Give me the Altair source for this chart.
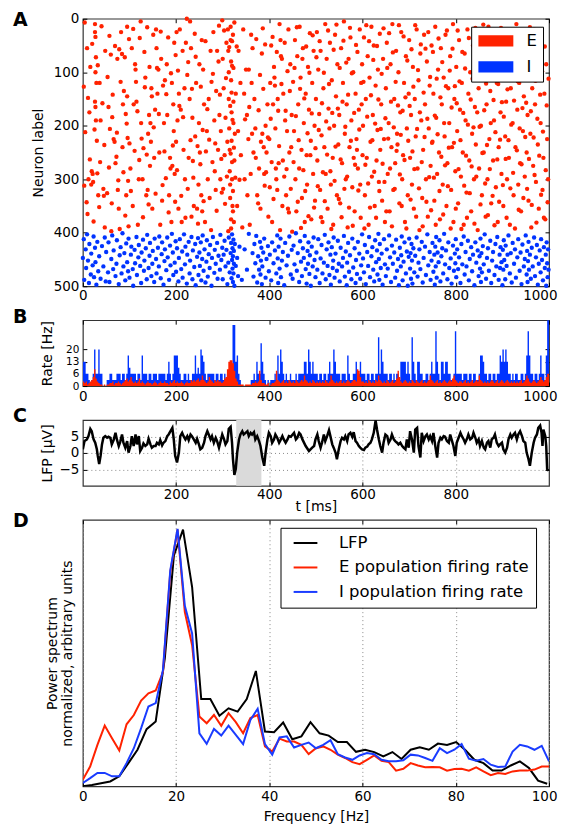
import altair as alt
import pandas as pd

FONT = "DejaVu Sans"
RED = "#ff2200"
BLUE = "#0033ff"
W = 467

# ---------------- Panel A: raster (t [ms], neuron label) ----------------
E_spikes = [
 (2,127),(3,312),(4,7),(9,55),(10,365),(12,300),(14,175),(16,90),(18,310),(19,285),(21,290),(22,305),(26,10),(26,25),(27,34),(27,100),(28,72),(29,120),(26,155),(27,165),(28,190),(30,228),(31,289),(33,330),(35,352),(36,120),(38,190),(44,318),(46,236),(48,60),(47,390),
 (52,326),(55,165),(57,32),(58,206),(60,67),(62,345),(63,184),(66,225),(68,230),(70,270),(72,258),(74,75),(75,320),(76,302),(78,57),(79,393),(82,25),(84,66),(85,240),(86,160),(88,135),(90,72),(91,368),(92,178),(93,330),(95,15),(95,145),(96,223),(97,303),(98,388),
 (100,233),(102,280),(105,55),(107,350),(109,160),(112,85),(113,95),(114,118),(115,155),(118,385),(120,300),(122,36),(125,195),(126,224),(128,300),(130,242),(132,62),(134,110),(136,330),(138,16),(140,215),(142,180),(144,275),(145,195),(146,230),(147,130),(148,145),(149,355),(143,90),(139,320),
 (151,30),(153,260),(155,170),(157,20),(158,55),(160,140),(162,95),(164,250),(166,385),(168,75),(170,340),(172,125),(174,195),(176,115),(178,298),(180,85),(181,180),(183,35),(185,330),(187,260),(188,280),(190,380),(191,120),(192,275),(194,160),(195,210),(196,45),(197,290),(198,342),(199,68),
 (200,230),(201,25),(203,190),(205,355),(206,140),(208,20),(210,170),(212,380),(214,60),(216,245),(218,130),(219,300),(221,45),(223,0),(224,105),(225,318),(227,260),(229,150),(230,5),(232,55),(233,370),(235,185),(236,266),(238,350),(240,28),(241,220),(243,120),(245,355),(246,238),(248,310),(249,195),
 (250,85),(251,250),(252,272),(254,330),(255,40),(256,360),(258,95),(260,160),(262,380),(264,248),(266,210),(268,300),(270,150),(272,335),(274,60),(276,118),(278,268),(280,25),(282,190),(283,285),(285,320),(286,135),(288,60),(290,245),(291,80),(293,180),(295,300),(296,210),(298,325),(299,3),
 (300,75),(302,130),(304,255),(306,185),(308,45),(309,295),(311,20),(312,60),(313,100),(313,150),(314,205),(315,245),(315,285),(316,310),(316,335),(317,15),(317,40),(318,80),(318,115),(319,175),(319,228),(320,268),(320,300),(321,350),(322,360),(322,30),(323,155),(323,195),(324,380),(325,265),(320,88),(318,392),(326,215),(328,140),(333,210),(338,120),(342,390),(346,140),(348,188),
 (331,350),(334,60),(339,255),(344,20),(347,300),(350,95),(353,330),(357,165),(361,30),(363,215),
 (352,180),(355,225),(358,385),(362,120),(366,250),(368,150),(370,205),(372,38),(374,330),(376,345),(378,280),(380,105),(382,230),(384,65),(386,18),(388,240),(389,290),(390,312),(392,200),(394,250),(396,160),(398,370),
 (400,225),(402,120),(404,50),(406,380),(408,160),(410,90),(411,110),(412,125),(414,280),(415,300),(417,320),(419,172),(420,270),(422,10),(424,40),(425,70),(427,75),(428,350),(430,140),(432,295),(434,190),(436,330),(438,210),(440,355),(441,20),(443,250),(445,85),(447,240),(448,180),(449,398),
 (451,118),(453,210),(455,40),(456,300),(458,360),(460,70),(462,160),(464,280),(465,15),(467,110),(469,245),(470,335),(472,55),(474,195),(476,380),(478,140),(480,255),(481,310),(483,90),(485,170),(487,27),(489,228),(490,375),(492,120),(494,290),(495,60),(497,200),(498,340),
 (500,150),(502,25),(503,265),(505,95),(507,178),(509,320),(510,60),(512,218),(514,380),(516,130),(518,240),(520,10),(521,290),(523,75),(525,355),(527,168),(529,205),(530,45),(532,310),(534,115),(536,260),(537,385),(539,200),(541,30),(543,145),(545,330),(546,85),(548,235),
 (550,180),(552,345),(554,55),(556,270),(558,120),(560,5),(562,215),(564,300),(566,160),(568,390),(570,75),(572,240),(574,35),(576,190),(578,315),(580,100),(581,260),(583,360),(585,140),(587,225),(588,245),(589,62),(590,280),(592,170),(594,20),(595,310),(597,120),(599,85),
 (601,200),(603,35),(605,330),(607,150),(609,260),(611,70),(613,385),(615,110),(617,230),(619,15),(620,295),(622,180),(624,50),(626,350),(628,125),(630,265),(632,208),(633,95),(635,305),(637,28),(638,245),(640,160),(642,340),(644,75),(646,225),(648,380),
 (650,130),(652,45),(654,290),(656,195),(658,360),(660,85),(662,240),(664,10),(666,320),(668,150),(670,270),(672,60),(674,215),(675,235),(677,100),(679,345),(681,175),(683,25),(685,300),(687,255),(689,120),(691,380),(693,70),(695,205),(697,330),(699,140),
 (700,40),(702,260),(704,180),(706,310),(708,90),(710,355),(712,150),(714,220),(716,20),(718,280),(720,115),(722,395),(724,65),(726,190),(728,335),(730,245),(732,30),(734,160),(736,300),(738,80),(740,370),(742,205),(744,125),(746,275),(748,50),
 (750,230),(752,140),(754,340),(756,15),(758,185),(760,290),(762,95),(764,250),(766,375),(768,55),(770,160),(772,310),(774,110),(776,220),(778,30),(780,350),(782,270),(784,130),(786,195),(788,70),(790,320),(792,240),(794,10),(795,380),(797,150),(799,285),
 (801,90),(803,210),(805,345),(807,40),(809,170),(811,295),(813,120),(815,250),(817,385),(819,65),(821,190),(823,325),(825,20),(827,140),(829,265),(831,100),(833,360),(835,215),(837,50),(839,300),(841,165),(843,235),(845,80),(847,395),(849,130),
 (850,280),(852,30),(854,200),(856,330),(858,110),(860,250),(862,60),(864,370),(866,160),(868,300),(870,15),(872,225),(874,135),(876,345),(878,85),(880,265),(882,190),(884,40),(886,315),(888,120),(890,380),(892,240),(894,70),(896,175),(898,290),
 (900,105),(902,350),(904,25),(906,220),(908,155),(910,300),(912,75),(914,260),(916,385),(918,130),(920,50),(922,195),(924,330),(926,95),(928,240),(930,10),(932,170),(934,310),(936,120),(938,270),(940,360),(942,60),(944,210),(946,145),(948,295),
 (950,35),(952,250),(954,180),(956,340),(958,90),(960,215),(962,390),(964,130),(966,275),(968,20),(970,160),(972,305),(974,70),(976,235),(978,355),(980,110),(982,195),(984,45),(986,320),(988,260),(990,140),(992,375),(994,85),(996,225),(998,300),
 (5,212),(8,343),(11,148),(15,263),(20,47),(23,379),(25,207),(32,87),(37,268),(40,14),(42,158),(45,331),
 (53,109),(56,278),(61,397),(64,142),(69,51),(73,213),(77,355),(81,118),(87,287),(94,196),(99,38),
 (103,322),(108,19),(111,247),(117,173),(121,264),(124,5),(129,371),(133,128),(137,254),(141,347),
 (152,203),(156,327),(159,92),(163,178),(167,24),(171,311),(175,248),(179,141),(184,362),(189,102),(193,237),
 (202,283),(204,97),(207,163),(211,331),(215,184),(220,372),(226,81),(231,227),(234,131),(237,297),(242,71),(247,383),
 (253,127),(257,208),(259,341),(263,42),(267,169),(271,226),(275,395),(279,103),(284,233),(287,359),(292,13),(294,142),(297,262),
 (301,318),(303,22),(305,346),(307,111),(310,230),(312,397),(314,53),(316,163),(317,252),(318,375),(319,138),(320,42),(321,189),(322,322),(323,92),(324,241),(325,7),(327,297),(330,52),(336,301),
 (356,95),(360,290),(364,55),(371,260),(377,171),(381,355),(385,215),(387,131),(391,48),(393,287),(397,222),
 (401,315),(403,187),(405,268),(407,34),(409,337),(413,205),(416,62),(418,150),(421,238),(423,395),(426,122),(429,265),(433,45),(435,172),(437,281),(439,98),(442,362),(444,135),(446,318),
 (452,268),(454,92),(457,182),(459,16),(461,342),(463,227),(466,131),(468,391),(471,75),(473,283),(475,149),(477,322),(479,52),(482,214),(484,369),(486,101),(488,255),(491,177),(493,31),(496,353),(499,242),
 (501,72),(504,313),(506,208),(508,42),(511,371),(513,158),(515,287),(517,101),(519,341),(522,192),(524,254),(526,22),(528,122),(531,285),(533,393),(535,176),(538,58),(540,303),(542,239),(544,11),(547,168),(549,337),
 (551,92),(553,263),(555,371),(557,155),(559,41),(561,318),(563,202),(565,82),(567,295),(569,142),(571,353),(573,17),(575,228),(577,102),(579,387),(582,176),(584,273),(586,49),(591,321),(593,207),(596,372),(598,160),
 (600,255),(602,118),(604,392),(606,273),(608,12),(610,183),(612,308),(614,42),(616,353),(618,143),(621,227),(623,77),(625,286),(627,196),(629,372),(631,51),(634,151),(636,322),(639,206),(641,103),(643,271),(645,18),(647,305),(649,186),
 (651,360),(653,92),(655,224),(657,27),(659,280),(661,155),(663,388),(665,63),(667,203),(669,318),(671,118),(673,247),(676,162),(678,12),(680,291),(682,217),(684,350),(686,172),(688,33),(690,264),(692,147),(694,392),(696,78),(698,228),
 (701,163),(703,338),(705,57),(707,248),(709,127),(711,281),(713,12),(715,370),(717,206),(719,96),(721,317),(723,175),(725,48),(727,268),(729,388),(731,138),(733,221),(735,56),(737,342),(739,187),(741,25),(743,296),(745,109),(747,358),(749,232),
 (751,62),(753,297),(755,181),(757,385),(759,112),(761,216),(763,37),(765,322),(767,147),(769,258),(771,81),(773,366),(775,195),(777,274),(779,126),(781,22),(783,313),(785,241),(787,97),(789,392),(791,166),(793,56),(796,232),(798,126),
 (800,355),(802,158),(804,22),(806,281),(808,117),(810,227),(812,393),(814,62),(816,176),(818,312),(820,93),(822,256),(824,372),(826,198),(828,36),(830,326),(832,151),(834,276),(836,112),(838,203),(840,383),(842,17),(844,295),(846,175),(848,72),
 (851,202),(853,347),(855,91),(857,251),(859,11),(861,171),(863,308),(865,121),(867,236),(869,367),(871,52),(873,281),(875,195),(877,97),(879,331),(881,152),(883,386),(885,212),(887,57),(889,263),(891,122),(893,342),(895,226),(897,17),(899,156),
 (901,311),(903,183),(905,46),(907,262),(909,372),(911,132),(913,227),(915,87),(917,317),(919,198),(921,27),(923,288),(925,153),(927,392),(929,73),(931,246),(933,117),(935,357),(937,205),(939,31),(941,272),(943,167),(945,335),(947,95),(949,221),
 (951,157),(953,318),(955,86),(957,262),(959,16),(961,173),(963,348),(965,62),(967,222),(969,292),(971,116),(973,381),(975,187),(977,36),(979,256),(981,142),(983,329),(985,98),(987,211),(989,372),(991,52),(993,283),(995,162),(997,343),(999,112),
]

I_spikes = [
 (0,447),(2,412),(3,488),(6,431),(7,466),(9,403),(11,452),(13,494),(14,421),(17,478),(18,439),(21,461),(23,407),(24,483),(26,428),(27,455),(29,497),(31,417),(33,472),(35,444),(38,486),(41,425),(44,463),(47,409),(49,491),
 (50,436),(54,474),(55,418),(57,492),(61,449),(63,405),(65,468),(66,433),(70,481),(72,458),(73,414),(77,496),(79,442),(81,427),(83,476),(85,401),(87,463),(89,438),(91,489),(93,420),(95,455),(97,472),(98,411),
 (100,484),(103,441),(104,426),(107,468),(108,499),(111,432),(112,457),(115,408),(116,479),(119,446),(120,423),(123,462),(125,494),(126,437),(129,413),(131,471),(132,452),(135,429),(137,487),(138,404),(141,466),(143,443),(144,419),(147,481),(149,458),
 (150,434),(153,492),(154,411),(157,449),(158,476),(161,428),(163,463),(164,407),(167,485),(169,440),(170,418),(173,497),(175,453),(176,431),(179,470),(181,409),(182,446),(185,488),(187,424),(188,461),(191,402),(193,437),(194,479),(197,456),(199,416),
 (200,473),(202,429),(205,491),(206,447),(208,412),(211,468),(213,435),(214,484),(217,403),(219,459),(220,426),(223,495),(224,441),(227,417),(229,476),(230,452),(233,408),(235,487),(236,433),(239,464),(241,421),(242,498),(245,445),(247,410),(248,479),
 (250,437),(251,462),(253,418),(254,489),(256,449),(257,405),(259,471),(261,431),(263,493),(265,454),(266,414),(268,482),(270,440),(272,466),(273,423),(276,499),(277,447),(279,408),(282,475),(283,432),(285,458),(288,419),(289,486),(291,443),(294,469),(295,404),(297,451),(299,428),
 (300,487),(302,441),(304,415),(306,463),(308,432),(310,496),(312,456),(313,409),(315,474),(317,438),(318,419),(319,485),(320,451),(320,403),(321,467),(321,429),(322,492),(322,444),(323,413),(323,476),(324,458),(324,434),(325,499),(326,421),(328,462),(331,447),(333,481),(336,426),
 (341,488),(347,431),(352,469),(356,402),
 (364,438),(366,482),(368,421),(370,457),(372,406),(374,493),(376,444),(378,469),(380,417),(381,478),(382,452),(383,428),(384,496),(385,463),(387,437),(389,411),(392,484),(394,449),(397,425),(399,472),
 (401,441),(404,489),(406,418),(409,457),(412,433),(415,476),(417,405),(418,448),(419,494),(420,426),(422,467),(424,411),(425,483),(427,452),(429,436),(432,498),(434,419),(437,461),(440,443),(443,407),(446,478),(448,432),
 (450,486),(452,424),(454,459),(457,401),(459,471),(461,438),(464,492),(466,416),(468,454),(470,481),(472,429),(474,447),(476,406),(478,468),(480,495),(482,434),(483,458),(484,418),(486,477),(487,442),(489,499),(491,426),(493,463),(495,409),(497,451),(499,483),
 (501,437),(503,469),(505,412),(508,494),(510,448),(512,423),(514,476),(517,456),(519,404),(521,487),(523,431),(525,462),(527,418),(529,479),(531,441),(532,497),(534,427),(536,466),(537,452),(538,409),(540,484),(542,439),(545,471),(547,415),(549,458),
 (551,491),(553,428),(556,463),(558,447),(560,406),(562,482),(564,435),(566,498),(567,456),(569,419),(571,473),(573,442),(576,487),(578,411),(580,465),(583,429),(585,494),(586,451),(588,477),(590,417),(593,439),(595,486),(597,461),(599,403),
 (601,448),(603,474),(605,423),(607,496),(610,436),(612,462),(614,408),(616,483),(619,444),(621,427),(623,469),(625,491),(627,414),(629,455),(631,433),(632,478),(634,402),(635,449),(636,488),(637,421),(639,466),(641,439),(643,497),(646,412),(648,459),
 (650,481),(652,431),(654,467),(657,405),(659,446),(661,492),(663,424),(665,458),(668,437),(670,484),(672,413),(674,471),(676,449),(678,498),(680,428),(682,463),(683,442),(684,407),(686,489),(688,454),(690,418),(693,476),(695,435),(697,499),(699,445),
 (700,411),(702,467),(703,438),(704,486),(705,421),(706,452),(707,495),(709,429),(711,474),(713,443),(716,409),(718,482),(720,456),(722,431),(724,468),(727,417),(729,493),(731,447),(734,426),(736,479),(739,403),(741,461),(744,436),(746,488),(748,452),
 (750,419),(752,473),(754,441),(755,497),(756,426),(757,463),(758,408),(759,484),(761,437),(763,455),(765,414),(767,491),(769,444),(771,429),(773,476),(775,402),(777,459),(779,433),(782,487),(784,418),(786,466),(789,448),(791,495),(794,424),(796,471),(798,439),
 (799,457),(800,412),(801,483),(803,431),(805,468),(807,446),(810,494),(812,421),(814,459),(817,407),(819,478),(821,436),(823,463),(826,415),(828,489),(830,449),(833,427),(835,472),(837,441),(840,498),(842,418),(844,456),(847,433),(849,481),
 (851,444),(852,467),(853,411),(854,492),(855,438),(856,474),(858,425),(860,459),(862,403),(865,486),(867,447),(869,429),(871,471),(874,415),(876,494),(878,452),(880,436),(883,479),(885,421),(887,463),(889,408),(892,488),(894,441),(895,466),(896,427),(898,455),
 (900,498),(901,432),(902,469),(903,414),(904,451),(906,487),(907,424),(909,462),(911,441),(913,405),(916,476),(918,438),(920,493),(922,419),(925,458),(927,431),(929,484),(932,446),(934,412),(937,471),(939,437),(941,496),(943,422),(946,463),(948,449),
 (950,405),(952,478),(953,434),(954,492),(955,453),(956,417),(957,469),(959,441),(961,486),(963,428),(965,463),(968,409),(970,481),(972,446),(974,423),(976,497),(978,458),(980,433),(982,474),(983,412),(985,451),(987,489),(989,427),(991,466),(993,441),(994,499),(995,418),(996,457),(997,483),(998,431),(999,469),
]

# ---------------- Panel B: spike counts per 3 ms bin ----------------
BIN_MS = 3
I_counts = [
 4,4,2,2,1,0,1,2,6,2, 2,6,2,2,0,0,0,1,1,2, 2,1,1,1,2,2,2,1,2,2, 1,2,5,3,2,2,2,2,1,2,
 2,1,5,2,2,2,1,2,2,1, 2,2,2,1,2,2,2,2,2,1, 2,4,2,1,2,5,5,5,3,2, 1,1,2,2,1,2,1,1,2,2,
 5,2,3,2,6,5,4,2,1,2, 2,2,2,2,1,2,2,1,2,2, 1,2,1,2,2,4,2,10,10,4, 5,2,1,0,0,0,0,0,0,0,
 1,1,2,1,4,2,2,7,4,2, 1,0,1,0,1,1,1,2,1,5, 2,6,4,2,1,2,1,1,2,1, 1,1,2,1,2,2,2,2,4,4,
 2,6,4,2,4,2,2,2,1,2, 2,1,2,2,1,2,4,2,2,6, 4,2,2,2,1,2,2,2,1,5, 2,1,1,2,2,4,2,2,4,2,
 2,2,1,2,2,1,2,2,1,2, 2,8,2,6,4,2,2,2,1,2, 2,1,2,1,2,2,1,4,4,4, 4,2,4,2,1,8,4,2,1,4,
 4,2,2,1,1,2,2,1,2,4, 2,2,9,4,2,1,4,4,2,4, 4,2,2,1,1,2,9,2,2,2, 2,1,2,2,2,1,2,2,1,2,
 2,1,1,2,5,5,4,2,2,1, 2,2,1,2,2,1,2,2,5,4, 6,4,6,4,2,2,1,2,1,2, 2,1,1,2,2,1,2,5,9,5,
 2,2,1,2,2,1,2,5,2,2, 1,5,12,12,
]
E_counts = [
 3,2,3,1,2,3,4,6,11,5, 3,2,1,1,0,1,0,1,1,2, 2,3,1,2,2,3,2,1,2,3, 4,5,3,4,6,3,2,3,2,3,
 5,2,3,2,1,2,3,2,2,1, 2,3,2,1,2,3,2,2,3,2, 2,1,3,2,3,4,2,3,2,2, 3,2,1,2,3,2,2,4,3,4,
 3,4,5,3,4,7,4,3,2,3, 6,4,3,2,4,3,4,3,3,2, 3,5,6,11,16,17,17,15,10,5, 3,1,1,1,1,0,1,1,1,1,
 1,2,2,3,2,3,10,4,2,2, 1,1,2,0,1,2,2,3,10,4, 3,2,3,4,2,3,2,4,3,2, 3,2,4,3,2,3,4,3,7,4,
 3,2,3,2,4,3,2,3,2,3, 2,3,2,4,3,2,3,7,4,3, 2,3,2,3,4,2,3,2,3,4, 3,2,3,4,4,3,11,10,6,3,
 3,2,3,2,4,3,2,3,2,4, 3,7,4,3,2,3,2,4,3,2, 3,4,2,3,5,10,6,3,2,3, 4,3,2,3,2,4,3,2,4,3,
 2,3,4,2,3,2,3,4,7,4, 3,2,3,4,2,3,2,3,4,3, 2,3,4,3,5,7,4,3,2,3, 3,2,3,4,2,3,2,3,4,2,
 3,4,3,7,4,3,2,3,2,3, 2,3,4,3,2,3,4,2,3,4, 3,2,3,4,3,2,3,2,3,2, 3,2,3,4,2,3,4,7,5,3,
 2,3,4,3,2,3,4,6,4,3, 4,6,8,8,
]
N_E, N_I = 400, 100

# ---------------- Panel C: LFP ----------------
lfp_t = [0,3.5,8.6,12,16,19,23,26.5,30,32,35,38,41,44,48,52,55,59,62,66,70,73,77,80,84,87,91,95,98,102,105,109,113,116,120,123,127,130,134,138,141,145,148,152,156,159,163,166,170,173,177,181,184,188,192,195,198,202,206,209,213,216,220,224,227,231,234,238,242,245,249,252,256,260,263,267,270,274,277,281,285,288,292,295,299,303,306,310,313,317,320,322,325,328,331,335,338,342,345,349,353,356,360,363,367,370,374,378,381,385,389,392,396,399,403,406,410,413,417,421,424,428,431,435,439,442,446,450,453,457,460,464,467,471,478,485,492,496,499,
 503,506,510,513,517,520,524,528,531,535,538,542,545,549,553,556,560,563,567,570,574,578,581,585,588,592,595,599,603,606,610,613,617,620,624,628,631,635,638,642,645,649,653,656,660,663,667,670,674,677,681,685,688,692,695,699,702,706,710,713,717,720,724,727,731,735,738,742,745,749,752,756,760,763,767,770,774,777,781,785,788,792,795,799,802,806,810,813,817,820,824,827,831,835,838,842,845,849,852,856,860,863,867,870,874,877,881,884,888,892,895,899,902,906,910,913,917,920,924,927,931,934,938,942,945,949,952,956,959,963,967,970,974,977,981,984,986,988,992,994,996,999]
lfp_v = [1.1,3.6,4.1,5.1,7.3,6.6,4.1,3.1,1.1,-0.9,-3.4,-0.9,2.6,4.6,5.1,4.6,4.9,4.6,2.6,3.9,6.1,4.1,2.1,3.3,5.6,3.1,1.6,3.6,0.1,2.1,5.1,2.1,5.6,2.6,5.1,0.6,1.6,2.9,2.1,2.6,4.3,2.6,1.6,2.1,2.1,3.1,2.6,3.9,2.3,3.1,3.6,5.1,5.6,6.6,7.6,4.1,-0.9,-2.9,0.1,5.1,6.1,5.1,4.1,5.1,3.9,5.6,5.1,4.1,3.1,4.3,2.6,1.1,1.6,3.1,5.1,6.6,5.6,4.1,5.1,3.1,4.6,3.6,1.6,3.3,5.6,4.1,2.6,3.6,7.3,7.9,3.1,-1.9,-6.7,-4.9,0.1,4.1,5.6,6.6,5.6,6.1,6.6,5.1,6.1,5.6,6.3,4.1,5.1,3.6,2.1,-1.4,-3.9,0.1,4.1,6.1,5.1,3.1,4.1,5.6,4.6,3.1,3.9,5.1,4.1,3.1,4.1,5.1,4.9,5.6,6.1,4.1,4.6,6.1,5.6,4.1,2.1,0.6,1.6,2.1,4.1,
 5.6,3.6,1.6,3.1,5.6,3.6,5.1,6.9,5.1,2.6,1.6,0.1,-1.9,1.1,3.6,4.6,4.1,5.1,3.6,5.6,6.1,4.9,6.3,3.6,3.1,2.1,1.6,1.1,0.9,1.6,1.9,2.6,3.1,4.1,6.1,9.9,7.1,4.1,2.1,0.1,3.1,5.6,5.1,3.1,4.1,5.6,4.1,3.6,3.1,2.6,3.1,2.1,1.6,1.1,4.1,1.6,6.6,4.1,0.1,7.1,7.6,2.1,-1.4,6.1,3.6,5.1,5.6,4.1,5.1,3.6,6.1,2.1,-1.4,3.1,4.6,4.1,5.1,4.9,3.6,3.1,5.6,3.6,2.1,-0.9,3.1,4.6,6.1,5.1,4.1,3.1,4.3,5.6,4.1,4.6,6.1,4.6,3.1,4.1,2.1,3.6,1.6,1.1,3.1,3.6,1.6,4.1,4.6,5.6,3.1,2.1,2.6,3.1,1.1,0.1,1.6,4.1,5.6,4.6,5.6,6.1,4.1,5.6,6.6,5.1,3.6,3.1,0.1,-1.9,-3.9,0.1,3.1,4.6,5.6,7.6,8.3,6.1,2.1,7.1,5.1,2.1,-4.9,-5.4]
shade_range = [329, 383]

# ---------------- Panel D: normalized power spectra ----------------
DF_LFP = 1.953125
DF_RATE = 1.5625
psd_lfp = [0,0.005,0.012,0.019,0.039,0.090,0.142,0.222,0.252,0.497,0.897,0.997,0.774,0.339,0.339,0.274,0.303,0.290,0.339,0.448,0.213,0.210,0.248,0.183,0.194,0.249,0.206,0.197,0.172,0.172,0.134,0.142,0.133,0.116,0.133,0.106,0.142,0.152,0.142,0.166,0.161,0.172,0.141,0.103,0.090,0.061,0.061,0.081,0.097,0.071,0.022,0.010]
psd_E = [0.026,0.077,0.161,0.236,0.187,0.139,0.241,0.277,0.333,0.361,0.372,0.445,0.832,0.997,0.677,0.548,0.271,0.245,0.277,0.235,0.284,0.249,0.206,0.265,0.277,0.155,0.135,0.185,0.174,0.174,0.161,0.125,0.148,0.155,0.142,0.123,0.110,0.094,0.086,0.103,0.120,0.099,0.094,0.061,0.068,0.090,0.081,0.074,0.075,0.074,0.061,0.067,0.068,0.061,0.074,0.058,0.043,0.052,0.048,0.058,0.061,0.061,0.065,0.077,0.077]
psd_I = [0.013,0.032,0.052,0.052,0.039,0.039,0.090,0.148,0.226,0.310,0.323,0.452,0.839,1.0,0.701,0.594,0.206,0.165,0.223,0.197,0.236,0.200,0.164,0.258,0.301,0.164,0.123,0.190,0.194,0.151,0.161,0.170,0.148,0.161,0.179,0.125,0.112,0.103,0.120,0.129,0.125,0.103,0.097,0.097,0.101,0.123,0.120,0.110,0.099,0.148,0.129,0.142,0.164,0.107,0.099,0.106,0.084,0.075,0.077,0.135,0.161,0.155,0.142,0.157,0.097]
series_names = ["LFP", "E population firing rate", "I population firing rate"]
series_colors = ["#000000", RED, "#1a3cff"]

x_ticks_t = [0, 200, 400, 600, 800, 1000]
y_ticks_A = [0, 100, 200, 300, 400, 500]
y_ticks_B = [0, 20 / 3, 40 / 3, 20]
x_ticks_C = [200, 400, 600, 800]
y_ticks_C = [-5, 0, 5]
x_ticks_D = [0, 20, 40, 60, 80, 100]

# ---------------- tables ----------------
spk = pd.DataFrame(
    [{"t": t, "n": n, "pop": "E"} for t, n in E_spikes]
    + [{"t": t, "n": n, "pop": "I"} for t, n in I_spikes]
)
nb = len(I_counts)
rate = pd.DataFrame({
    "t": [BIN_MS * i for i in range(nb)] + [BIN_MS * nb],
    "I": [c * 1000.0 / (BIN_MS * N_I) for c in I_counts] + [I_counts[-1] * 1000.0 / (BIN_MS * N_I)],
    "E": [c * 1000.0 / (BIN_MS * N_E) for c in E_counts] + [E_counts[-1] * 1000.0 / (BIN_MS * N_E)],
})
lfp = pd.DataFrame({"t": lfp_t, "v": lfp_v})
shade = pd.DataFrame({"x0": [shade_range[0]], "x1": [shade_range[1]]})
psd = pd.DataFrame(
    [{"f": k * DF_LFP, "p": v, "s": series_names[0], "o": 0} for k, v in enumerate(psd_lfp)]
    + [{"f": k * DF_RATE, "p": v, "s": series_names[1], "o": 1} for k, v in enumerate(psd_E)]
    + [{"f": k * DF_RATE, "p": v, "s": series_names[2], "o": 2} for k, v in enumerate(psd_I)]
)

TICK = dict(ticks=True, tickSize=4, offset=-4, tickColor="black", tickWidth=1)


def letter(ch, dy):
    return alt.Chart(alt.Data(values=[{"l": ch}])).mark_text(
        font=FONT, fontSize=19, fontWeight="bold", align="left",
        baseline="top", color="black"
    ).encode(text="l:N", x=alt.value(-70), y=alt.value(dy))


def last_right(v):
    return dict(
        labelAlign={"condition": {"test": f"datum.value == {v}", "value": "right"}, "value": "center"},
        labelOffset={"condition": {"test": f"datum.value == {v}", "value": 8}, "value": 0},
    )


def mirror_ticks(xf, yf, xscale, yscale, xvals, yvals):
    """Invisible layer that only carries inward ticks on the top and right frame edges."""
    row = {xf: xscale.domain[0], yf: yscale.domain[0]}
    enc = {"x": alt.X(f"{xf}:Q", scale=xscale,
                      axis=alt.Axis(orient="top", values=xvals, labels=False, title=None,
                                    grid=False, **TICK))}
    if yvals is not None:
        enc["y"] = alt.Y(f"{yf}:Q", scale=yscale,
                         axis=alt.Axis(orient="right", values=yvals, labels=False, title=None,
                                       grid=False, **TICK))
    else:
        enc["y"] = alt.Y(f"{yf}:Q", scale=yscale, axis=None)
    return alt.Chart(pd.DataFrame([row])).mark_point(opacity=0).encode(**enc)


tscale = alt.Scale(domain=[0, 1000], nice=False)

# ---- A ----
yA_scale = alt.Scale(domain=[0, 500], reverse=True, nice=False)
A_pts = alt.Chart(spk).mark_circle(size=19, opacity=1).encode(
    x=alt.X("t:Q", scale=tscale,
            axis=alt.Axis(values=x_ticks_t, format="d", title=None, grid=False, labelPadding=2,
                          **TICK, **last_right(1000))),
    y=alt.Y("n:Q", scale=yA_scale,
            axis=alt.Axis(values=y_ticks_A, title="Neuron label",
                          titleX=-48.5, titleBaseline="middle", grid=False, labelPadding=4, **TICK)),
    color=alt.Color("pop:N", scale=alt.Scale(domain=["E", "I"], range=[RED, BLUE]),
                    legend=alt.Legend(title=None, orient="none", legendX=389, legendY=8,
                                      symbolType="M-1,-0.8H4V0.8H-1Z", symbolSize=196,
                                      labelOffset=33, padding=6,
                                      rowPadding=9, strokeColor="black", fillColor="white",
                                      symbolStrokeWidth=0, labelFontSize=16.5)),
)
A = alt.layer(A_pts, mirror_ticks("t", "n", tscale, yA_scale, x_ticks_t, y_ticks_A),
              letter("A", -8)).resolve_axis(x="independent", y="independent"
              ).properties(width=W, height=268)

# ---- B ----
yB_axis = alt.Axis(values=y_ticks_B, labelExpr="floor(datum.value + 0.001)",
                   title="Rate [Hz]", titleX=-39, titleBaseline="middle", labelPadding=4,
                   labelFontSize=10.5, grid=False, **TICK)
yB_scale = alt.Scale(domain=[0, 36], nice=False)
xB = alt.X("t:Q", scale=tscale, axis=alt.Axis(values=x_ticks_t, format="d", title=None, grid=False,
                                              labelPadding=3, **TICK, **last_right(1000)))
B_I = alt.Chart(rate).mark_area(interpolate="step-after", color=BLUE, clip=True, opacity=1).encode(
    x=xB, y=alt.Y("I:Q", scale=yB_scale, axis=yB_axis))
B_E = alt.Chart(rate).mark_area(interpolate="step-after", color=RED, clip=True, opacity=1).encode(
    x=alt.X("t:Q", scale=tscale, axis=None), y=alt.Y("E:Q", scale=yB_scale, axis=None))
B = alt.layer(B_I, B_E, mirror_ticks("t", "I", tscale, yB_scale, x_ticks_t, y_ticks_B),
              letter("B", -12)).resolve_axis(x="independent", y="independent"
              ).properties(width=W, height=66)

# ---- C ----
xC_axis = alt.Axis(values=x_ticks_C, title="t [ms]", titleY=25, titleBaseline="middle",
                   grid=True, labelPadding=2, **TICK)
yC_scale = alt.Scale(domain=[-10, 10], nice=False)
yC_axis = alt.Axis(values=y_ticks_C, title="LFP [μV]", titleX=-39, titleBaseline="middle",
                   grid=True, labelPadding=4, **TICK)
C_shade = alt.Chart(shade).mark_rect(color="#dadada").encode(
    x=alt.X("x0:Q", scale=tscale, axis=None), x2="x1:Q")
C_line = alt.Chart(lfp).mark_line(color="black", strokeWidth=2.5, clip=True).encode(
    x=alt.X("t:Q", scale=tscale, axis=xC_axis),
    y=alt.Y("v:Q", scale=yC_scale, axis=yC_axis))
C = alt.layer(C_shade, C_line, mirror_ticks("t", "v", tscale, yC_scale, x_ticks_C, y_ticks_C),
              letter("C", -13)).resolve_axis(x="independent", y="independent"
              ).properties(width=W, height=66)

# ---- D ----
fscale = alt.Scale(domain=[0, 100], nice=False)
pscale = alt.Scale(domain=[0, 1.035], nice=False)
D_lines = alt.Chart(psd).mark_line(strokeWidth=2, clip=True).encode(
    x=alt.X("f:Q", scale=fscale,
            axis=alt.Axis(values=x_ticks_D, title="Frequency [Hz]", titleY=34,
                          titleBaseline="middle", grid=True, labelPadding=3,
                          **TICK, **last_right(100))),
    y=alt.Y("p:Q", scale=pscale,
            axis=alt.Axis(labels=False, grid=False,
                          title=["Power spectrum", "normalized, arbitrary units"],
                          titleX=-30, titleBaseline="middle", titleLineHeight=15)),
    color=alt.Color("s:N", sort=series_names,
                    scale=alt.Scale(domain=series_names, range=series_colors),
                    legend=alt.Legend(title=None, orient="none", legendX=198, legendY=8,
                                      symbolType="M-0.3,0H3.1", symbolSize=196,
                                      symbolStrokeWidth=2, labelOffset=35,
                                      padding=7, rowPadding=7.5, strokeColor="black",
                                      fillColor="white", labelFontSize=16.5, labelLimit=0)),
    order=alt.Order("o:Q"),
)
D = alt.layer(D_lines, mirror_ticks("f", "p", fscale, pscale, x_ticks_D, None),
              letter("D", -8)).resolve_axis(x="independent", y="independent"
              ).properties(width=W, height=267)

chart = alt.vconcat(A, B, C, D, spacing=34, bounds="flush").resolve_scale(
    x="independent", y="independent", color="independent"
).properties(
    padding={"left": 4, "top": 1, "right": 0, "bottom": 0}
).configure_view(
    stroke="#333333", strokeWidth=1.2
).configure_axis(
    labelFont=FONT, labelFontSize=13.5, labelColor="black",
    titleFont=FONT, titleFontSize=14, titleFontWeight="normal", titleColor="black",
    domain=False, ticks=False, labelFlush=False, labelOverlap=False,
    gridColor="#8a8a8a", gridDash=[1, 3], gridWidth=1
).configure_legend(
    labelFont=FONT, labelFontSize=16.5, labelColor="black"
)

chart.save("out.html", embed_options={"renderer": "svg", "actions": False})
